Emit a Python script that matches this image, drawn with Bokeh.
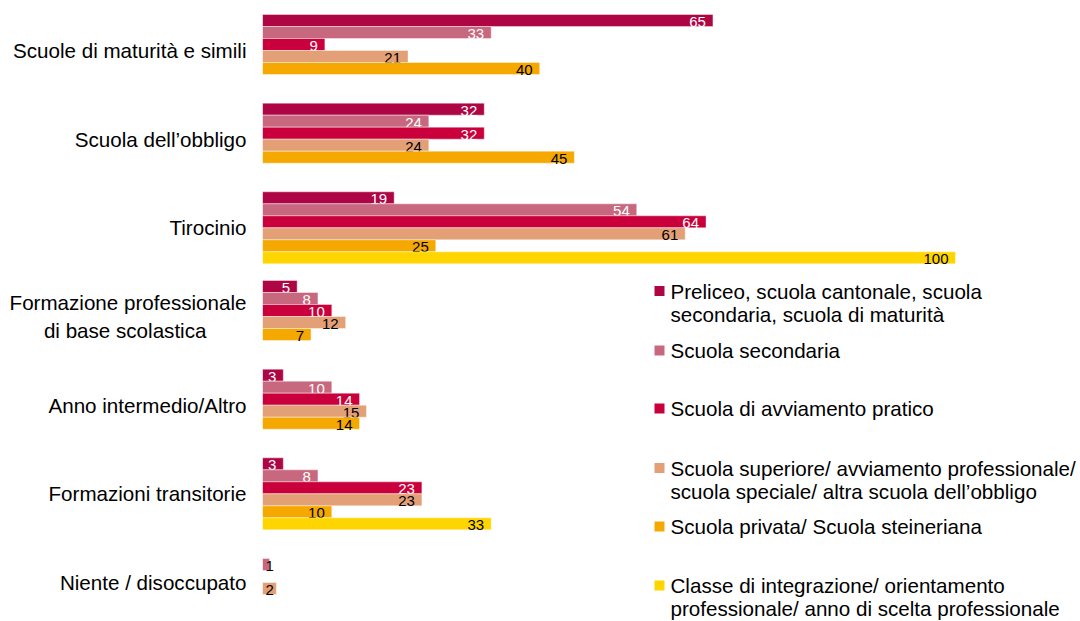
from bokeh.plotting import figure
from bokeh.models import Range1d, FixedTicker, Label, BoxAnnotation, ColumnDataSource
from bokeh.core.properties import value
from bokeh.embed import file_html
from bokeh.resources import INLINE

# ---------------- data ----------------
categories = [
    "Scuole di maturità e simili",
    "Scuola dell\u2019obbligo",
    "Tirocinio",
    "Formazione professionale\ndi base scolastica" + "\u00a0" * 7,
    "Anno intermedio/Altro",
    "Formazioni transitorie",
    "Niente / disoccupato",
]
series_names = [
    "Preliceo, scuola cantonale, scuola\nsecondaria, scuola di maturità",
    "Scuola secondaria",
    "Scuola di avviamento pratico",
    "Scuola superiore/ avviamento professionale/\nscuola speciale/ altra scuola dell\u2019obbligo",
    "Scuola privata/ Scuola steineriana",
    "Classe di integrazione/ orientamento\nprofessionale/ anno di scelta professionale",
]
preliceo = [65, 32, 19, 5, 3, 3, None]
secondaria = [33, 24, 54, 8, 10, 8, 1]
avviamento = [9, 32, 64, 10, 14, 23, None]
superiore = [21, 24, 61, 12, 15, 23, 2]
privata = [40, 45, 25, 7, 14, 10, None]
integrazione = [None, None, 100, None, None, 33, None]
series_values = [preliceo, secondaria, avviamento, superiore, privata, integrazione]

colors = ["#AE0545", "#C8687F", "#C9003B", "#E39F76", "#F5A800", "#FFD500"]
label_colors = ["white", "white", "white", "black", "black", "black"]

# ---------------- layout constants ----------------
FONT = "Liberation Sans"
W, H = 1080, 621
LEFT = 262                 # frame left inside the figure
PX_PER_X = 6.93            # pixels per percent
GROUP_PX = 88.67           # pixels between group centres
SLOT_PX = 12.0             # bar slot height in pixels
FIRST_CENTER_PX = 50.0     # first group centre, from the frame top
frame_w = W - LEFT
x_end = frame_w / PX_PER_X
slot = SLOT_PX / GROUP_PX
y_top = -FIRST_CENTER_PX / GROUP_PX
y_bottom = (H - FIRST_CENTER_PX) / GROUP_PX

def fx(px):   # pixel (from figure left) -> data x
    return (px - LEFT) / PX_PER_X

def fy(py):   # pixel (from figure top) -> data y
    return (py - FIRST_CENTER_PX) / GROUP_PX

p = figure(width=W, height=H, output_backend="svg", toolbar_location=None,
           x_range=Range1d(0, x_end), y_range=Range1d(y_bottom, y_top),
           min_border_left=LEFT, min_border_right=0, min_border_top=0,
           min_border_bottom=0, background_fill_color="white",
           border_fill_color="white")
p.outline_line_color = None
p.grid.visible = False
p.xaxis.visible = False

n_series = len(series_values)
for si, vals in enumerate(series_values):
    ys, xs, txt = [], [], []
    for gi, v in enumerate(vals):
        if v is None:
            continue
        ys.append(gi + (si - (n_series - 1) / 2) * slot)
        xs.append(v)
        txt.append(str(v))
    src = ColumnDataSource(dict(y=ys, right=xs, text=txt))
    p.hbar(y="y", left=0, right="right", height=slot, source=src,
           fill_color=colors[si], line_color="white", line_alpha=0.5,
           line_width=0.8)
    big = ColumnDataSource(dict(y=[y for y, x in zip(ys, xs) if x >= 3],
                                x=[x for x in xs if x >= 3],
                                text=[t for t, x in zip(txt, xs) if x >= 3]))
    small = ColumnDataSource(dict(y=[y for y, x in zip(ys, xs) if x < 3],
                                  x=[0 for x in xs if x < 3],
                                  text=[t for t, x in zip(txt, xs) if x < 3]))
    p.text(x="x", y="y", text="text", source=big, text_align="right",
           text_baseline="middle", x_offset=-7, y_offset=1.5,
           text_font=value(FONT), text_font_size="15px",
           text_color=label_colors[si])
    p.text(x="x", y="y", text="text", source=small, text_align="left",
           text_baseline="middle", x_offset=3, y_offset=1.5,
           text_font=value(FONT), text_font_size="15px", text_color="black")

ax = p.yaxis[0]
ax.ticker = FixedTicker(ticks=list(range(len(categories))))
ax.major_label_overrides = {i: c for i, c in enumerate(categories)}
ax.axis_line_color = None
ax.major_tick_line_color = None
ax.minor_tick_line_color = None
ax.major_tick_out = 0
ax.major_tick_in = 0
ax.major_label_standoff = 16
ax.major_label_text_font = FONT
ax.major_label_text_font_size = "20.6px"
ax.major_label_text_color = "black"

# ---------------- legend (manual) ----------------
legend_sq_left = 654
legend_text_left = 670
legend_centers = [290.5, 350, 408, 467.5, 526, 585]
line_gap = 23
for si, name in enumerate(series_names):
    cy = legend_centers[si]
    p.add_layout(BoxAnnotation(left=fx(legend_sq_left), right=fx(legend_sq_left + 10),
                               top=fy(cy - 5), bottom=fy(cy + 5),
                               fill_color=colors[si], fill_alpha=1,
                               line_color=None))
    for li, line in enumerate(name.split("\n")):
        p.add_layout(Label(x=fx(legend_text_left), y=fy(cy + li * line_gap),
                           text=line, text_font=FONT, text_font_size="20.6px",
                           text_baseline="middle", text_align="left",
                           text_color="black"))

open("out.html", "w").write(file_html(p, INLINE))
